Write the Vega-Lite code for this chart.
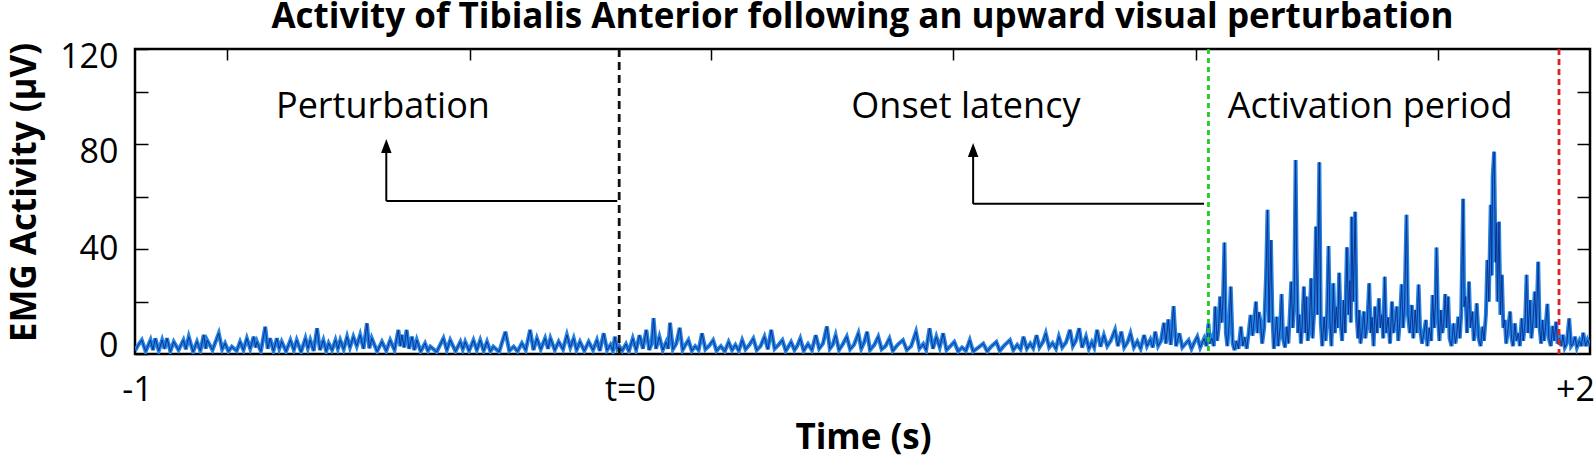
{
"$schema": "https://vega.github.io/schema/vega-lite/v6.json",
"width": 1455,
"height": 305,
"autosize": {"type": "none"},
"padding": {"left": 135, "top": 49, "right": 4, "bottom": 106},
"background": "white",
"config": {"font": "Open Sans", "view": {"stroke": "black", "strokeWidth": 2.5}},
"title": {"text": "Activity of Tibialis Anterior following an upward visual perturbation", "font": "Open Sans", "fontSize": 35, "fontWeight": "bold", "color": "black", "anchor": "middle", "frame": "group", "baseline": "alphabetic", "offset": -23},
"datasets": {
"emg": [
{"t":-1.000,"v":1.2},{"t":-0.993,"v":3.5},{"t":-0.986,"v":5.3},{"t":-0.978,"v":1.0},{"t":-0.968,"v":5.3},{"t":-0.963,"v":1.5},{"t":-0.958,"v":6.0},{"t":-0.951,"v":1.2},{"t":-0.944,"v":5.3},{"t":-0.939,"v":2.0},{"t":-0.934,"v":6.0},{"t":-0.927,"v":1.0},{"t":-0.920,"v":4.7},{"t":-0.910,"v":1.5},{"t":-0.900,"v":5.3},{"t":-0.895,"v":1.8},{"t":-0.889,"v":6.6},{"t":-0.880,"v":0.8},{"t":-0.872,"v":4.7},{"t":-0.865,"v":1.2},{"t":-0.858,"v":7.3},{"t":-0.854,"v":2.0},{"t":-0.851,"v":5.3},{"t":-0.840,"v":1.5},{"t":-0.827,"v":7.9},{"t":-0.820,"v":1.8},{"t":-0.814,"v":4.1},{"t":-0.807,"v":1.0},{"t":-0.800,"v":2.8},{"t":-0.790,"v":1.2},{"t":-0.783,"v":4.7},{"t":-0.776,"v":1.5},{"t":-0.769,"v":6.0},{"t":-0.762,"v":2.0},{"t":-0.755,"v":6.6},{"t":-0.751,"v":2.5},{"t":-0.748,"v":4.7},{"t":-0.740,"v":1.0},{"t":-0.731,"v":10.4},{"t":-0.726,"v":2.0},{"t":-0.721,"v":6.0},{"t":-0.714,"v":1.2},{"t":-0.707,"v":6.0},{"t":-0.702,"v":2.0},{"t":-0.697,"v":4.7},{"t":-0.688,"v":1.0},{"t":-0.679,"v":5.3},{"t":-0.672,"v":1.5},{"t":-0.666,"v":5.3},{"t":-0.657,"v":0.8},{"t":-0.648,"v":6.0},{"t":-0.643,"v":2.2},{"t":-0.638,"v":5.3},{"t":-0.631,"v":1.2},{"t":-0.624,"v":9.8},{"t":-0.618,"v":1.5},{"t":-0.611,"v":5.3},{"t":-0.605,"v":1.0},{"t":-0.600,"v":4.1},{"t":-0.593,"v":1.5},{"t":-0.586,"v":5.3},{"t":-0.581,"v":2.0},{"t":-0.576,"v":5.3},{"t":-0.569,"v":1.8},{"t":-0.562,"v":6.6},{"t":-0.556,"v":2.5},{"t":-0.549,"v":6.6},{"t":-0.542,"v":3.0},{"t":-0.535,"v":7.3},{"t":-0.528,"v":2.0},{"t":-0.521,"v":11.7},{"t":-0.516,"v":2.2},{"t":-0.511,"v":6.0},{"t":-0.500,"v":1.0},{"t":-0.490,"v":4.7},{"t":-0.481,"v":1.2},{"t":-0.473,"v":5.3},{"t":-0.464,"v":1.5},{"t":-0.456,"v":9.2},{"t":-0.452,"v":3.0},{"t":-0.449,"v":7.3},{"t":-0.444,"v":2.5},{"t":-0.439,"v":9.2},{"t":-0.434,"v":2.0},{"t":-0.428,"v":6.6},{"t":-0.423,"v":1.5},{"t":-0.418,"v":5.3},{"t":-0.410,"v":1.0},{"t":-0.401,"v":4.1},{"t":-0.395,"v":1.2},{"t":-0.390,"v":2.8},{"t":-0.377,"v":0.8},{"t":-0.363,"v":6.0},{"t":-0.356,"v":1.5},{"t":-0.349,"v":5.3},{"t":-0.338,"v":1.0},{"t":-0.328,"v":4.7},{"t":-0.323,"v":1.8},{"t":-0.318,"v":4.7},{"t":-0.310,"v":1.2},{"t":-0.301,"v":5.3},{"t":-0.294,"v":1.5},{"t":-0.287,"v":5.3},{"t":-0.280,"v":1.2},{"t":-0.273,"v":4.7},{"t":-0.266,"v":1.0},{"t":-0.260,"v":2.8},{"t":-0.248,"v":0.8},{"t":-0.235,"v":8.5},{"t":-0.227,"v":1.2},{"t":-0.218,"v":2.8},{"t":-0.210,"v":1.0},{"t":-0.201,"v":4.1},{"t":-0.193,"v":1.5},{"t":-0.184,"v":9.2},{"t":-0.177,"v":1.5},{"t":-0.170,"v":6.0},{"t":-0.162,"v":1.8},{"t":-0.153,"v":6.0},{"t":-0.147,"v":2.0},{"t":-0.142,"v":6.0},{"t":-0.133,"v":1.5},{"t":-0.125,"v":4.7},{"t":-0.116,"v":1.8},{"t":-0.108,"v":7.3},{"t":-0.101,"v":2.5},{"t":-0.094,"v":6.0},{"t":-0.088,"v":1.5},{"t":-0.081,"v":4.7},{"t":-0.072,"v":1.2},{"t":-0.063,"v":4.7},{"t":-0.054,"v":1.5},{"t":-0.046,"v":5.3},{"t":-0.040,"v":1.2},
{"t":-0.032,"v":7.9},{"t":-0.025,"v":1.5},{"t":-0.018,"v":3.5},{"t":-0.013,"v":1.2},{"t":-0.009,"v":6.6},{"t":-0.004,"v":2.0},{"t":0.000,"v":3.0},{"t":0.006,"v":1.2},{"t":0.014,"v":3.8},{"t":0.020,"v":1.0},{"t":0.028,"v":5.9},{"t":0.035,"v":1.5},{"t":0.042,"v":7.2},{"t":0.049,"v":2.0},{"t":0.056,"v":9.2},{"t":0.062,"v":1.5},{"t":0.067,"v":4.0},{"t":0.071,"v":13.7},{"t":0.076,"v":2.0},{"t":0.083,"v":6.6},{"t":0.090,"v":1.5},{"t":0.097,"v":4.5},{"t":0.101,"v":2.0},{"t":0.105,"v":11.9},{"t":0.111,"v":1.8},{"t":0.118,"v":4.0},{"t":0.125,"v":10.0},{"t":0.131,"v":1.5},{"t":0.137,"v":3.5},{"t":0.143,"v":5.3},{"t":0.150,"v":1.2},{"t":0.157,"v":3.0},{"t":0.164,"v":1.5},{"t":0.171,"v":7.9},{"t":0.178,"v":1.8},{"t":0.186,"v":3.2},{"t":0.194,"v":5.3},{"t":0.201,"v":1.2},{"t":0.210,"v":3.0},{"t":0.218,"v":1.0},{"t":0.226,"v":4.6},{"t":0.233,"v":1.5},{"t":0.240,"v":3.5},{"t":0.247,"v":1.2},{"t":0.254,"v":5.3},{"t":0.261,"v":1.8},{"t":0.269,"v":3.5},{"t":0.277,"v":5.9},{"t":0.284,"v":1.5},{"t":0.292,"v":3.0},{"t":0.300,"v":6.6},{"t":0.307,"v":1.8},{"t":0.314,"v":9.2},{"t":0.321,"v":2.0},{"t":0.329,"v":3.5},{"t":0.337,"v":5.3},{"t":0.344,"v":1.2},{"t":0.350,"v":3.0},{"t":0.355,"v":4.6},{"t":0.362,"v":1.5},{"t":0.368,"v":3.2},{"t":0.374,"v":5.9},{"t":0.381,"v":1.2},{"t":0.390,"v":3.8},{"t":0.398,"v":1.5},{"t":0.406,"v":7.2},{"t":0.413,"v":2.0},{"t":0.421,"v":4.0},{"t":0.429,"v":10.5},{"t":0.435,"v":2.0},{"t":0.441,"v":3.5},{"t":0.447,"v":7.2},{"t":0.454,"v":1.5},{"t":0.462,"v":3.8},{"t":0.470,"v":6.6},{"t":0.477,"v":1.8},{"t":0.485,"v":3.5},{"t":0.494,"v":7.9},{"t":0.500,"v":2.0},{"t":0.506,"v":4.5},{"t":0.512,"v":8.5},{"t":0.518,"v":1.5},{"t":0.527,"v":3.5},{"t":0.535,"v":6.6},{"t":0.542,"v":1.8},{"t":0.550,"v":3.0},{"t":0.558,"v":5.9},{"t":0.565,"v":1.2},{"t":0.575,"v":3.5},{"t":0.586,"v":5.3},{"t":0.594,"v":1.5},{"t":0.603,"v":3.0},{"t":0.613,"v":8.5},{"t":0.620,"v":2.0},{"t":0.628,"v":3.8},{"t":0.634,"v":1.5},{"t":0.641,"v":9.8},{"t":0.648,"v":2.0},{"t":0.655,"v":6.6},{"t":0.662,"v":2.5},{"t":0.669,"v":7.9},{"t":0.676,"v":1.5},{"t":0.684,"v":3.0},{"t":0.692,"v":4.6},{"t":0.700,"v":1.0},{"t":0.708,"v":2.5},{"t":0.716,"v":1.2},{"t":0.724,"v":5.3},{"t":0.731,"v":1.0},{"t":0.740,"v":2.2},{"t":0.752,"v":4.0},{"t":0.760,"v":1.0},{"t":0.768,"v":2.8},{"t":0.779,"v":4.6},{"t":0.786,"v":1.2},{"t":0.795,"v":3.2},{"t":0.807,"v":5.3},{"t":0.814,"v":1.5},{"t":0.822,"v":3.5},{"t":0.829,"v":1.8},{"t":0.835,"v":6.6},{"t":0.842,"v":2.0},{"t":0.849,"v":4.0},{"t":0.855,"v":2.2},{"t":0.862,"v":7.2},{"t":0.868,"v":2.5},{"t":0.875,"v":4.5},{"t":0.881,"v":7.9},{"t":0.888,"v":2.5},{"t":0.895,"v":4.2},{"t":0.902,"v":2.0},{"t":0.908,"v":6.6},{"t":0.915,"v":2.5},{"t":0.923,"v":4.5},{"t":0.931,"v":9.2},{"t":0.937,"v":3.0},{"t":0.943,"v":5.0},{"t":0.950,"v":9.8},{"t":0.956,"v":2.5},{"t":0.964,"v":6.6},{"t":0.970,"v":2.0},{"t":0.976,"v":4.5},{"t":0.981,"v":2.5},{"t":0.987,"v":9.2},{"t":0.994,"v":2.8},{"t":1.001,"v":7.2},{"t":1.008,"v":3.0},{"t":1.015,"v":5.0},{"t":1.024,"v":9.2},{"t":1.030,"v":3.0},{"t":1.037,"v":8.5},{"t":1.043,"v":2.5},{"t":1.050,"v":4.5},{"t":1.056,"v":7.9},{"t":1.063,"v":2.5},{"t":1.070,"v":4.8},{"t":1.077,"v":2.0},{"t":1.084,"v":7.2},{"t":1.090,"v":3.0},{"t":1.097,"v":5.5},{"t":1.102,"v":2.5},{"t":1.107,"v":8.5},{"t":1.113,"v":3.0},{"t":1.119,"v":5.0},{"t":1.125,"v":11.9},{"t":1.129,"v":4.0},{"t":1.134,"v":13.2},{"t":1.139,"v":3.5},{"t":1.145,"v":18.3},{"t":1.150,"v":3.0},{"t":1.157,"v":7.9},{"t":1.163,"v":2.5},{"t":1.170,"v":4.0},{"t":1.176,"v":5.3},{"t":1.182,"v":2.0},{"t":1.188,"v":4.5},{"t":1.194,"v":6.6},{"t":1.200,"v":2.5},{"t":1.208,"v":5.9},{"t":1.213,"v":3.0},{"t":1.217,"v":11.7},{"t":1.220,"v":4.0},
{"t":1.224,"v":6.0},{"t":1.228,"v":3.0},{"t":1.231,"v":18.1},{"t":1.235,"v":5.0},{"t":1.238,"v":10.0},{"t":1.241,"v":21.9},{"t":1.244,"v":12.0},{"t":1.247,"v":20.0},{"t":1.250,"v":42.5},{"t":1.253,"v":8.0},{"t":1.256,"v":3.0},{"t":1.260,"v":12.0},{"t":1.263,"v":25.7},{"t":1.267,"v":4.0},{"t":1.271,"v":1.5},{"t":1.275,"v":5.0},{"t":1.279,"v":2.0},{"t":1.284,"v":10.4},{"t":1.288,"v":3.0},{"t":1.292,"v":6.5},{"t":1.296,"v":2.0},{"t":1.300,"v":8.0},{"t":1.304,"v":14.9},{"t":1.308,"v":7.0},{"t":1.311,"v":12.0},{"t":1.315,"v":20.0},{"t":1.318,"v":8.0},{"t":1.321,"v":16.0},{"t":1.324,"v":13.0},{"t":1.328,"v":4.0},{"t":1.332,"v":10.0},{"t":1.336,"v":30.0},{"t":1.339,"v":55.0},{"t":1.342,"v":12.0},{"t":1.346,"v":43.5},{"t":1.349,"v":15.0},{"t":1.352,"v":2.0},{"t":1.355,"v":8.0},{"t":1.358,"v":14.2},{"t":1.361,"v":3.0},{"t":1.365,"v":10.0},{"t":1.368,"v":22.9},{"t":1.371,"v":6.0},{"t":1.375,"v":2.5},{"t":1.379,"v":10.4},{"t":1.382,"v":4.0},{"t":1.385,"v":15.0},{"t":1.388,"v":27.6},{"t":1.391,"v":10.0},{"t":1.394,"v":20.0},{"t":1.397,"v":74.0},{"t":1.399,"v":36.5},{"t":1.402,"v":8.0},{"t":1.405,"v":15.0},{"t":1.408,"v":4.0},{"t":1.411,"v":12.0},{"t":1.414,"v":25.7},{"t":1.417,"v":8.0},{"t":1.419,"v":21.9},{"t":1.422,"v":5.0},{"t":1.425,"v":10.0},{"t":1.429,"v":28.9},{"t":1.432,"v":6.0},{"t":1.436,"v":18.0},{"t":1.439,"v":48.6},{"t":1.442,"v":15.0},{"t":1.446,"v":73.2},{"t":1.449,"v":12.0},{"t":1.452,"v":3.0},{"t":1.456,"v":14.2},{"t":1.459,"v":5.0},{"t":1.462,"v":16.0},{"t":1.465,"v":41.2},{"t":1.468,"v":12.0},{"t":1.471,"v":3.0},{"t":1.475,"v":27.0},{"t":1.478,"v":8.0},{"t":1.481,"v":18.0},{"t":1.484,"v":10.0},{"t":1.487,"v":31.0},{"t":1.490,"v":12.0},{"t":1.493,"v":5.0},{"t":1.496,"v":20.6},{"t":1.499,"v":8.0},{"t":1.503,"v":40.7},{"t":1.506,"v":15.0},{"t":1.509,"v":28.0},{"t":1.511,"v":12.0},{"t":1.513,"v":52.4},{"t":1.516,"v":20.0},{"t":1.520,"v":54.3},{"t":1.523,"v":15.0},{"t":1.526,"v":6.0},{"t":1.528,"v":16.8},{"t":1.531,"v":4.0},{"t":1.535,"v":10.0},{"t":1.538,"v":16.2},{"t":1.541,"v":6.0},{"t":1.545,"v":12.0},{"t":1.549,"v":27.0},{"t":1.552,"v":8.0},{"t":1.555,"v":14.0},{"t":1.558,"v":3.0},{"t":1.561,"v":18.1},{"t":1.565,"v":8.0},{"t":1.569,"v":21.2},{"t":1.572,"v":10.0},{"t":1.575,"v":15.0},{"t":1.578,"v":6.0},{"t":1.581,"v":29.5},{"t":1.584,"v":8.0},{"t":1.588,"v":14.0},{"t":1.592,"v":4.0},{"t":1.596,"v":20.0},{"t":1.599,"v":8.0},{"t":1.602,"v":12.0},{"t":1.606,"v":18.1},{"t":1.609,"v":5.0},{"t":1.612,"v":12.0},{"t":1.616,"v":26.6},{"t":1.619,"v":10.0},{"t":1.622,"v":18.0},{"t":1.626,"v":53.1},{"t":1.629,"v":15.0},{"t":1.633,"v":8.0},{"t":1.637,"v":18.7},{"t":1.640,"v":6.0},{"t":1.644,"v":16.8},{"t":1.647,"v":8.0},{"t":1.651,"v":26.5},{"t":1.654,"v":10.0},{"t":1.658,"v":4.0},{"t":1.662,"v":8.0},{"t":1.666,"v":13.0},{"t":1.669,"v":3.0},{"t":1.673,"v":10.0},{"t":1.677,"v":5.0},{"t":1.680,"v":22.5},{"t":1.683,"v":10.0},{"t":1.686,"v":20.0},{"t":1.688,"v":40.6},{"t":1.691,"v":14.0},{"t":1.694,"v":5.0},{"t":1.697,"v":16.8},{"t":1.700,"v":8.0},{"t":1.703,"v":12.0},{"t":1.706,"v":22.9},{"t":1.709,"v":10.0},{"t":1.712,"v":21.9},{"t":1.715,"v":6.0},{"t":1.719,"v":3.0},{"t":1.723,"v":11.7},{"t":1.727,"v":4.0},{"t":1.730,"v":8.0},{"t":1.733,"v":14.2},{"t":1.736,"v":6.0},{"t":1.739,"v":15.0},{"t":1.743,"v":59.2},{"t":1.745,"v":18.0},{"t":1.748,"v":21.9},{"t":1.751,"v":8.0},{"t":1.755,"v":27.6},{"t":1.758,"v":10.0},{"t":1.762,"v":16.2},{"t":1.765,"v":5.0},{"t":1.768,"v":10.0},{"t":1.771,"v":19.3},{"t":1.775,"v":6.0},{"t":1.779,"v":3.0},{"t":1.783,"v":10.4},{"t":1.786,"v":5.0},{"t":1.790,"v":15.0},{"t":1.793,"v":35.9},{"t":1.796,"v":20.0},{"t":1.800,"v":56.9},{"t":1.802,"v":30.0},{"t":1.804,"v":67.7},{"t":1.807,"v":77.2},{"t":1.810,"v":35.0},{"t":1.812,"v":49.9},{"t":1.814,"v":20.0},{"t":1.817,"v":50.5},{"t":1.820,"v":15.0},{"t":1.823,"v":30.2},{"t":1.826,"v":10.0},{"t":1.829,"v":13.0},{"t":1.832,"v":4.0},{"t":1.836,"v":10.0},{"t":1.840,"v":16.2},{"t":1.843,"v":6.0},{"t":1.846,"v":3.0},{"t":1.850,"v":11.7},{"t":1.853,"v":5.0},{"t":1.857,"v":8.0},{"t":1.860,"v":3.0},{"t":1.864,"v":13.6},{"t":1.867,"v":5.0},{"t":1.871,"v":12.0},{"t":1.874,"v":30.2},{"t":1.877,"v":8.0},{"t":1.881,"v":20.6},{"t":1.884,"v":6.0},{"t":1.887,"v":12.0},{"t":1.891,"v":23.8},{"t":1.894,"v":10.0},{"t":1.898,"v":35.2},{"t":1.901,"v":10.0},{"t":1.904,"v":4.0},{"t":1.907,"v":13.0},{"t":1.910,"v":5.0},{"t":1.913,"v":10.0},{"t":1.917,"v":19.1},{"t":1.920,"v":6.0},{"t":1.924,"v":3.0},{"t":1.928,"v":10.7},{"t":1.931,"v":5.0},{"t":1.935,"v":12.3},{"t":1.938,"v":4.0},{"t":1.942,"v":6.0},{"t":1.946,"v":3.0},{"t":1.949,"v":7.3},{"t":1.953,"v":2.5},{"t":1.957,"v":4.0},{"t":1.962,"v":13.6},{"t":1.966,"v":3.0},{"t":1.970,"v":4.0},{"t":1.974,"v":6.6},{"t":1.978,"v":2.5},{"t":1.983,"v":5.0},{"t":1.987,"v":3.0},{"t":1.991,"v":8.1},{"t":1.996,"v":3.0},{"t":2.000,"v":5.3},{"t":2.005,"v":3.0}
],
"markers": [
{"t":0.0,"k":"t0"},{"t":1.217,"k":"onset"},{"t":1.941,"k":"end"}
],
"arrows": [
{"t":-0.481,"t2":-0.481,"v":58.4,"v2":78.7},
{"t":-0.481,"t2":-0.004,"v":58.4,"v2":58.4},
{"t":0.731,"t2":0.731,"v":57.3,"v2":77.2},
{"t":0.731,"t2":1.208,"v":57.3,"v2":57.3}
],
"heads": [
{"t":-0.481,"v":78.7},{"t":0.731,"v":77.2}
],
"notes": [
{"t":-0.488,"v":90.1,"label":"Perturbation"},
{"t":0.716,"v":90.1,"label":"Onset latency"},
{"t":1.551,"v":90.1,"label":"Activation period"}
]
},
"layer": [
{
"data": {"name": "emg"},
"mark": {"type": "line", "color": "#2383e2", "strokeWidth": 4, "clip": true},
"encoding": {
"x": {"field": "t", "type": "quantitative", "scale": {"domain": [-1, 2.005], "nice": false, "zero": false},
"axis": {"orient": "bottom", "values": [-0.996, 0.0223, 1.974], "labelExpr": "datum.value < -0.5 ? '-1' : (datum.value < 1 ? 't=0' : '+2')", "ticks": false, "tickSize": 0, "domain": false, "grid": false, "labelFont": "Open Sans", "labelFontSize": 34, "labelColor": "black", "labelPadding": 36, "labelBaseline": "middle", "labelFlush": false, "labelOverlap": false, "labelBound": false,
"title": "Time (s)", "titleFont": "Open Sans", "titleFontSize": 35, "titleFontWeight": "bold", "titleColor": "black", "titleX": 728, "titleY": 94, "titleBaseline": "alphabetic", "titleAlign": "center"}},
"y": {"field": "v", "type": "quantitative", "scale": {"domain": [0, 116.4], "nice": false, "zero": false},
"axis": {"orient": "left", "values": [0, 20, 40, 60, 80, 100, 116.4], "labelExpr": "datum.value == 0 ? '0' : (datum.value == 40 ? '40' : (datum.value == 80 ? '80' : (datum.value > 110 ? '120' : '')))", "domain": false, "grid": false, "tickSize": -13, "tickWidth": 1.5, "tickColor": "black", "labelFont": "Open Sans", "labelFontSize": 34, "labelColor": "black", "labelPadding": 30, "labelBaseline": "middle",
"labelOffset": {"condition": [{"test": "datum.value > 110", "value": 8}, {"test": "datum.value == 0", "value": -8}, {"test": "datum.value == 80", "value": 8}], "value": 0},
"title": "EMG Activity (μV)", "titleFont": "Open Sans", "titleFontSize": 35, "titleFontWeight": "bold", "titleColor": "black", "titleAngle": -90, "titleX": -100, "titleY": 143, "titleBaseline": "alphabetic", "titleAlign": "center"}}
}
},
{
"data": {"name": "emg"},
"mark": {"type": "line", "color": "#0a2a8a", "strokeWidth": 0.9, "clip": true},
"encoding": {
"x": {"field": "t", "type": "quantitative", "axis": null},
"y": {"field": "v", "type": "quantitative",
"axis": {"orient": "right", "values": [20, 40, 60, 80, 100], "labels": false, "domain": false, "grid": false, "tickSize": -13, "tickWidth": 1.5, "tickColor": "black", "title": null}}
}
},
{
"data": {"name": "markers"},
"mark": {"type": "rule", "strokeWidth": 2.8},
"encoding": {
"x": {"field": "t", "type": "quantitative",
"axis": {"orient": "top", "values": [-0.81, -0.308, 0.19, 0.689, 1.191, 1.691], "labels": false, "domain": false, "grid": false, "tickSize": -11, "tickWidth": 1.5, "tickColor": "black", "title": null}},
"color": {"field": "k", "type": "nominal", "scale": {"domain": ["t0", "onset", "end"], "range": ["#111111", "#22cc22", "#e02020"]}, "legend": null},
"strokeDash": {"field": "k", "type": "nominal", "scale": {"domain": ["t0", "onset", "end"], "range": [[8, 5], [5, 4], [6, 4]]}, "legend": null}
}
},
{
"data": {"name": "arrows"},
"mark": {"type": "rule", "color": "black", "strokeWidth": 2},
"encoding": {
"x": {"field": "t", "type": "quantitative", "axis": null},
"x2": {"field": "t2"},
"y": {"field": "v", "type": "quantitative", "axis": null},
"y2": {"field": "v2"}
}
},
{
"data": {"name": "heads"},
"mark": {"type": "point", "shape": "M0,-1L0.6,0.6L-0.6,0.6Z", "size": 306, "filled": true, "color": "black", "opacity": 1},
"encoding": {
"x": {"field": "t", "type": "quantitative", "axis": null},
"y": {"field": "v", "type": "quantitative", "axis": null}
}
},
{
"data": {"name": "notes"},
"mark": {"type": "text", "font": "Open Sans", "fontSize": 36, "color": "black", "align": "center", "baseline": "alphabetic"},
"encoding": {
"x": {"field": "t", "type": "quantitative", "axis": null},
"y": {"field": "v", "type": "quantitative", "axis": null},
"text": {"field": "label"}
}
}
],
"resolve": {"axis": {"x": "independent", "y": "independent"}}
}
